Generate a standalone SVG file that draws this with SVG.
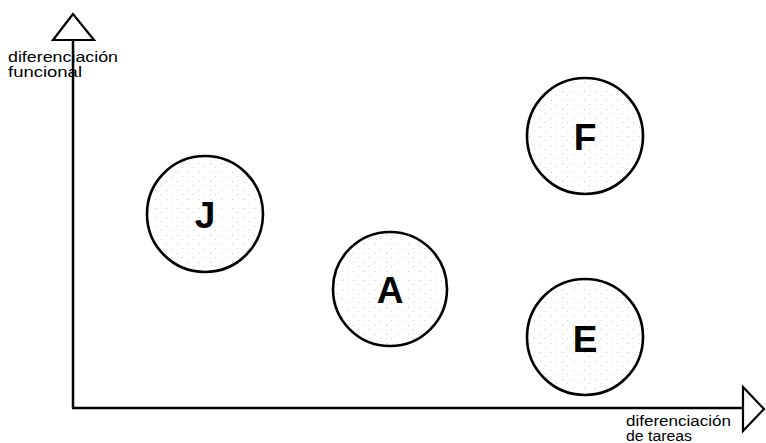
<svg xmlns="http://www.w3.org/2000/svg" width="766" height="443" viewBox="0 0 766 443">
  <style>
    .axis { stroke: #000; stroke-width: 2.5; fill: none; }
    .head { stroke: #000; stroke-width: 2.2; fill: #fff; stroke-linejoin: miter; }
    .node circle { stroke: #000; stroke-width: 2.6; fill: url(#stipple); }
    .node text { font-family: "Liberation Sans", Arial, sans-serif; font-weight: bold; font-size: 37px; text-anchor: middle; fill: #000; }
    .label { font-family: "Liberation Sans", Arial, sans-serif; font-size: 14px; fill: #000; }
  </style>
  <defs>
    <pattern id="stipple" width="11" height="9" patternUnits="userSpaceOnUse">
      <rect width="11" height="9" fill="#fff"/>
      <rect x="1" y="1" width="1" height="1" fill="#c8c8c8"/>
      <rect x="6" y="5" width="1" height="1" fill="#d4d4d4"/>
    </pattern>
  </defs>
  <rect width="766" height="443" fill="#fff"/>

  <!-- axes with open triangular heads -->
  <g id="connectors">
    <line class="axis" x1="73" y1="40" x2="73" y2="408"/>
    <line class="axis" x1="72" y1="408" x2="743" y2="408"/>
    <polygon class="head" points="73,14 53,40 94,40"/>
    <polygon class="head" points="743,387 764,409 743,431"/>
  </g>

  <text class="label" x="8" y="62" textLength="110" lengthAdjust="spacingAndGlyphs">diferenciación</text>
  <text class="label" x="8" y="77" textLength="74" lengthAdjust="spacingAndGlyphs">funcional</text>
  <text class="label" x="626" y="426" textLength="105" lengthAdjust="spacingAndGlyphs">diferenciación</text>
  <text class="label" x="626" y="441" textLength="66" lengthAdjust="spacingAndGlyphs">de tareas</text>

  <g id="node-J" class="node">
    <circle cx="205" cy="214" r="58"/>
    <text x="205" y="228">J</text>
  </g>
  <g id="node-A" class="node">
    <circle cx="390" cy="289" r="57"/>
    <text x="390" y="303">A</text>
  </g>
  <g id="node-F" class="node">
    <circle cx="585" cy="136" r="58"/>
    <text x="585" y="150">F</text>
  </g>
  <g id="node-E" class="node">
    <circle cx="585" cy="337" r="58"/>
    <text x="585" y="352">E</text>
  </g>
</svg>
